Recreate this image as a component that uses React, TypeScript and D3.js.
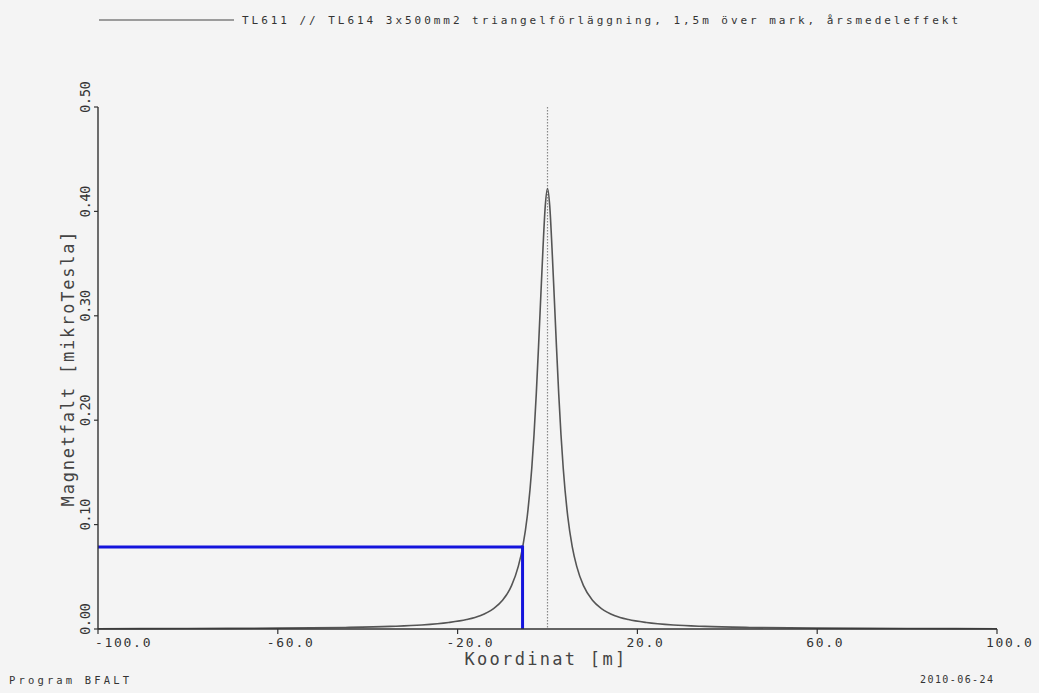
import React from "react";
import * as d3 from "d3";

const coordX: number[] = [
  -100, -80, -60, -45, -35, -28, -22, -18, -15, -12, -10, -8, -6.5, -5.5, -4.5, -3.5, -3, -2.5, -2, -1.5, -1, -0.5, 0,
  0.5, 1, 1.5, 2, 2.5, 3, 3.5, 4.5, 5.5, 6.5, 8, 10, 12, 15, 18, 22, 28, 35, 45, 60, 80, 100,
];
const fieldB: number[] = [
  0.0003, 0.0005, 0.0008, 0.0015, 0.0025, 0.0038, 0.0062, 0.0091, 0.0128, 0.0196, 0.0275, 0.0415, 0.06, 0.079, 0.108,
  0.154, 0.186, 0.225, 0.27, 0.318, 0.365, 0.405, 0.422, 0.405, 0.365, 0.318, 0.27, 0.225, 0.186, 0.154, 0.108, 0.079,
  0.06, 0.0415, 0.0275, 0.0196, 0.0128, 0.0091, 0.0062, 0.0038, 0.0025, 0.0015, 0.0008, 0.0005, 0.0003,
];

const xTicks: number[] = [-100, -60, -20, 20, 60, 100];
const xTickLabels: string[] = ["-100.0", "-60.0", "-20.0", "20.0", "60.0", "100.0"];
const yTicks: number[] = [0, 0.1, 0.2, 0.3, 0.4, 0.5];
const yTickLabels: string[] = ["0.00", "0.10", "0.20", "0.30", "0.40", "0.50"];

const markerX: number[] = [-5.55];
const markerY: number[] = [0.0785];

const legendText = "TL611 // TL614 3x500mm2 triangelförläggning, 1,5m över mark, årsmedeleffekt";
const xTitle = "Koordinat [m]";
const yTitle = "Magnetfalt [mikroTesla]";
const footLeft = "Program BFALT";
const footRight = "2010-06-24";

const W = 1039;
const H = 693;
const FONT = "'DejaVu Sans Mono', 'Liberation Mono', monospace";

export default function App() {
  const x = d3.scaleLinear().domain([-100, 100]).range([98, 997]);
  const y = d3.scaleLinear().domain([0, 0.5]).range([629, 107]);

  const pts: [number, number][] = coordX.map((v, i) => [v, fieldB[i]]);
  const line = d3
    .line<[number, number]>()
    .x((d) => x(d[0]))
    .y((d) => y(d[1]))
    .curve(d3.curveMonotoneX);

  const axisColor = "#333";

  return (
    <svg
      width={W}
      height={H}
      style={{ position: "absolute", left: 0, top: 0, display: "block", background: "#f4f4f4" }}
    >
      <rect x={0} y={0} width={W} height={H} fill="#f4f4f4" />
      {/* legend */}
      <line x1={99} x2={234} y1={20} y2={20} stroke="#444" strokeWidth={1.2} />
      <text
        x={242}
        y={24}
        fontFamily={FONT}
        fontSize={11}
        fill="#333"
        textLength={716}
        lengthAdjust="spacing"
      >
        {legendText}
      </text>

      {/* dotted center line */}
      <line
        x1={x(0)}
        x2={x(0)}
        y1={y(0.5)}
        y2={y(0)}
        stroke="#888"
        strokeWidth={1.2}
        strokeDasharray="1.5,1.5"
      />

      {/* curve */}
      <path d={line(pts) || ""} fill="none" stroke="#555" strokeWidth={1.6} />

      {/* blue marker */}
      <line
        x1={x(-100)}
        x2={x(markerX[0])}
        y1={y(markerY[0])}
        y2={y(markerY[0])}
        stroke="#1414dc"
        strokeWidth={3}
      />
      <line
        x1={x(markerX[0])}
        x2={x(markerX[0])}
        y1={y(markerY[0]) - 1.5}
        y2={y(0)}
        stroke="#1414dc"
        strokeWidth={3}
      />

      {/* axes */}
      <line x1={x(-100)} x2={x(100)} y1={y(0)} y2={y(0)} stroke={axisColor} strokeWidth={1.4} />
      <line x1={x(-100)} x2={x(-100)} y1={y(0.5)} y2={y(0)} stroke={axisColor} strokeWidth={1.4} />

      {xTicks.map((t, i) => (
        <g key={"xt" + i}>
          <line x1={x(t)} x2={x(t)} y1={y(0)} y2={y(0) + 5} stroke={axisColor} strokeWidth={1.2} />
          <text
            x={i === 0 ? x(t) - 3 : x(t) - 11}
            y={647}
            fontFamily={FONT}
            fontSize={13}
            letterSpacing={1.7}
            fill="#333"
          >
            {xTickLabels[i]}
          </text>
        </g>
      ))}

      {yTicks.map((t, i) => (
        <g key={"yt" + i}>
          <line x1={x(-100) - 4} x2={x(-100)} y1={y(t)} y2={y(t)} stroke={axisColor} strokeWidth={1.2} />
          <text
            transform={`translate(90, ${y(t) + 6}) rotate(-90)`}
            fontFamily={FONT}
            fontSize={14}
            letterSpacing={-0.6}
            fill="#333"
          >
            {yTickLabels[i]}
          </text>
        </g>
      ))}

      {/* axis titles */}
      <text
        x={546}
        y={665}
        textAnchor="middle"
        fontFamily={FONT}
        fontSize={17}
        letterSpacing={2.3}
        fill="#444"
      >
        {xTitle}
      </text>
      <text
        transform={`translate(74, ${(y(0) + y(0.5)) / 2}) rotate(-90)`}
        textAnchor="middle"
        fontFamily={FONT}
        fontSize={17}
        letterSpacing={1.8}
        fill="#444"
      >
        {yTitle}
      </text>

      {/* footer */}
      <text x={9} y={684} fontFamily={FONT} fontSize={10.5} fill="#333" textLength={120} lengthAdjust="spacing">
        {footLeft}
      </text>
      <text x={920} y={683} fontFamily={FONT} fontSize={10} fill="#333" textLength={73} lengthAdjust="spacing">
        {footRight}
      </text>
    </svg>
  );
}
